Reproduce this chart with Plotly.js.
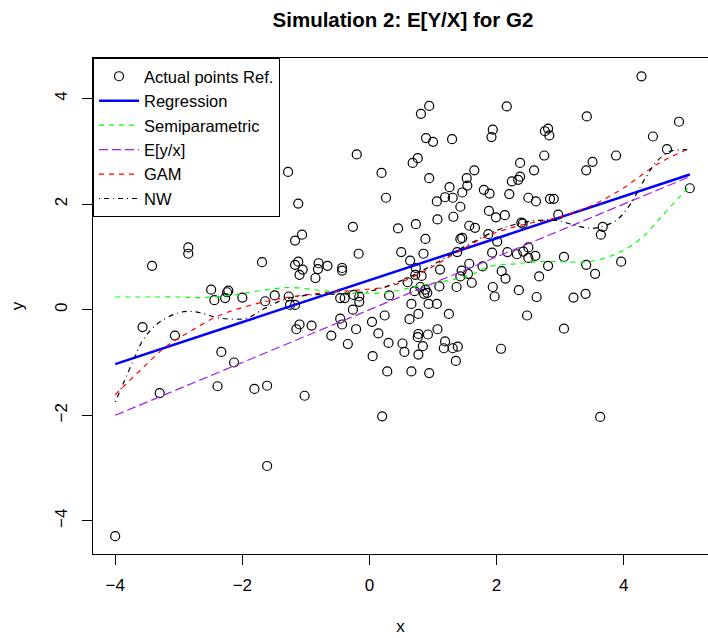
<!DOCTYPE html>
<html><head><meta charset="utf-8">
<script src="https://cdn.plot.ly/plotly-3.0.1.min.js"></script>
<style>html,body{margin:0;padding:0;background:#fff}</style>
</head><body><div id="chart" style="width:708px;height:638px"></div>
<script>
const pointsX = [-1.28,-2.85,-2.85,-3.42,-1.69,-2.49,-2.44,-2.27,-2.24,-2.22,-2.00,-1.64,-1.49,-1.27,-3.57,-3.06,-2.33,-2.13,-3.30,-2.39,-1.81,-1.61,-4.00,-1.61,
0.94,0.81,0.89,1.00,1.30,-0.20,0.19,0.68,0.76,0.94,1.65,1.53,1.54,1.26,1.46,1.19,1.31,1.06,1.80,1.89,1.88,1.92,1.94,1.43,-1.12,0.26,1.07,1.32,0.73,1.57,1.66,1.87,-0.26,0.45,0.88,1.43,1.46,-1.06,-1.17,-0.17,0.50,0.85,1.38,
4.28,2.16,3.42,4.87,4.46,2.76,2.81,2.83,4.68,2.75,3.88,3.51,3.41,2.37,2.59,2.37,2.34,2.24,2.20,2.50,2.62,2.84,2.90,1.99,2.13,2.97,2.39,2.41,3.67,3.64,2.01,5.04,2.50,
1.93,2.17,2.32,2.42,2.50,2.61,3.06,2.81,3.41,3.96,2.08,2.14,2.67,3.55,1.94,1.97,2.35,2.63,3.21,3.40,2.48,3.06,2.07,3.63,
-1.12,-1.17,-1.05,-1.10,-0.80,-0.81,-0.66,-0.85,-0.43,-0.43,0.64,0.73,0.82,0.72,1.11,0.60,1.45,1.43,1.57,1.55,1.61,1.78,1.37,1.10,0.80,0.71,0.88,0.86,0.91,0.31,-1.25,-1.17,-0.46,-0.39,-0.25,-0.16,-0.16,-0.26,0.66,0.93,1.06,0.77,1.25,-0.46,-0.43,0.24,0.63,0.04,-1.10,-1.15,-0.91,-0.21,-0.60,0.14,0.77,0.76,0.92,1.07,-0.34,0.30,0.52,0.55,0.84,0.77,1.19,1.17,1.31,1.39,1.36,0.05,0.28,0.66,0.94,-1.02,0.20];
const pointsY = [2.61,1.18,1.06,0.83,0.90,0.38,0.18,0.22,0.33,0.36,0.23,0.16,0.27,0.25,-0.33,-0.49,-0.80,-1.00,-1.58,-1.45,-1.50,-1.44,-4.29,-2.96,
3.86,3.71,3.25,3.18,3.23,2.94,2.59,2.78,2.87,2.49,2.64,2.49,2.35,2.32,2.22,2.13,2.12,2.05,2.27,2.20,1.87,3.27,3.41,1.95,2.01,2.12,1.71,1.76,1.62,1.59,1.55,1.43,1.57,1.54,1.34,1.34,1.36,1.42,1.31,1.06,1.09,1.06,1.09,
4.42,3.85,3.66,3.56,3.28,3.38,3.43,3.30,3.04,2.92,2.92,2.80,2.64,2.78,2.64,2.52,2.46,2.43,2.19,2.12,2.05,2.10,2.10,1.75,1.79,1.80,1.65,1.63,1.57,1.42,1.29,2.30,1.18,
1.08,1.09,1.05,1.10,0.98,1.02,1.00,0.83,0.85,0.91,0.73,0.59,0.63,0.68,0.43,0.25,0.37,0.24,0.23,0.30,-0.11,-0.36,-0.74,-2.03,
0.91,0.85,0.76,0.66,0.88,0.77,0.83,0.60,0.79,0.74,0.93,0.79,0.64,0.66,0.76,0.52,0.74,0.63,0.87,0.68,0.51,0.82,0.43,0.44,0.43,0.35,0.38,0.30,0.32,0.27,0.09,0.09,0.22,0.22,0.28,0.25,0.15,0.00,0.11,0.11,0.11,-0.08,-0.08,-0.17,-0.28,-0.11,-0.18,-0.23,-0.28,-0.37,-0.30,-0.37,-0.49,-0.45,-0.46,-0.52,-0.47,-0.37,-0.65,-0.63,-0.64,-0.80,-0.69,-0.85,-0.60,-0.73,-0.73,-0.70,-0.97,-0.88,-1.17,-1.17,-1.20,-1.63,-2.02];

const regressionX = [-4.00, 5.04];
const regressionY = [-1.03, 2.56];

const semiX = [-4.00,-3.50,-3.00,-2.66,-2.20,-1.72,-1.25,-0.72,-0.20,0.22,0.85,1.53,1.90,2.30,2.68,3.00,3.31,3.62,3.99,4.31,4.62,4.89,5.04];
const semiY = [0.24,0.24,0.24,0.23,0.27,0.36,0.42,0.36,0.32,0.32,0.47,0.63,0.82,0.87,0.91,0.91,0.90,0.95,1.12,1.39,1.80,2.15,2.34];

const eyxX = [-4.00, 5.04];
const eyxY = [-2.00, 2.52];

const gamX = [-4.00,-3.60,-3.19,-2.82,-2.40,-2.03,-1.61,-1.25,-0.72,-0.20,0.33,0.85,1.37,1.90,2.42,2.95,3.47,3.99,4.52,5.04];
const gamY = [-1.61,-1.14,-0.69,-0.41,-0.13,0.03,0.16,0.24,0.32,0.37,0.45,0.72,1.08,1.42,1.61,1.74,1.96,2.30,2.75,3.06];

const nwX = [-4.00,-3.87,-3.71,-3.56,-3.35,-3.08,-2.87,-2.66,-2.40,-2.14,-1.93,-1.67,-1.35,-1.00,-0.50,0.00,0.50,1.00,1.50,2.00,2.30,2.63,2.95,3.20,3.42,3.58,3.89,4.10,4.31,4.52,4.73,4.94,5.04];
const nwY = [-1.75,-1.39,-0.95,-0.57,-0.28,-0.09,-0.03,-0.06,-0.15,-0.18,-0.16,0.01,0.19,0.27,0.30,0.35,0.55,0.85,1.20,1.50,1.62,1.69,1.69,1.61,1.55,1.55,1.70,1.99,2.43,2.81,3.00,3.03,3.03];

const xTicks = [-4, -2, 0, 2, 4];
const yTicks = [-4, -2, 0, 2, 4];

const FONT = 'Liberation Sans, Arial, Helvetica, sans-serif';

const traces = [
  {x: pointsX, y: pointsY, type: 'scatter', mode: 'markers', name: 'Actual points Ref.',
   marker: {symbol: 'circle-open', size: 9, color: 'black', line: {width: 1.2, color: 'black'}}},
  {x: regressionX, y: regressionY, type: 'scatter', mode: 'lines', name: 'Regression',
   line: {color: '#0000FF', width: 2.5}},
  {x: semiX, y: semiY, type: 'scatter', mode: 'lines', name: 'Semiparametric', line: {shape: 'spline', color: '#00FF00', width: 1.2, dash: '5px,5px'}},
  {x: eyxX, y: eyxY, type: 'scatter', mode: 'lines', name: 'E[y/x]', line: {color: '#A020F0', width: 1.2, dash: '9px,4px'}},
  {x: gamX, y: gamY, type: 'scatter', mode: 'lines', name: 'GAM', line: {shape: 'spline', color: '#FF0000', width: 1.2, dash: '5px,5px'}},
  {x: nwX, y: nwY, type: 'scatter', mode: 'lines', name: 'NW', line: {shape: 'spline', color: 'black', width: 1.2, dash: '1px,4px,5px,4px'}}
];

const layout = {
  width: 708, height: 638,
  margin: {l: 93, r: 0, t: 58, b: 84, pad: 0},
  paper_bgcolor: 'white', plot_bgcolor: 'white',
  font: {family: FONT, color: 'black', size: 17},
  title: {text: '<b>Simulation 2: E[Y/X] for G2</b>', font: {family: FONT, size: 20.5, color: 'black'},
          xref: 'paper', x: 0.504, xanchor: 'center', yref: 'container', y: 1 - 20/638, yanchor: 'middle'},
  showlegend: true,
  legend: {x: 0, y: 1, xanchor: 'left', yanchor: 'top', bordercolor: 'black', borderwidth: 1,
           bgcolor: 'white', font: {family: FONT, size: 16.5, color: 'black'}, itemwidth: 40},
  xaxis: {range: [-4.349, 5.326], tickvals: xTicks, ticktext: xTicks.map(v => v < 0 ? '\u2212' + Math.abs(v) : String(v)),
          showgrid: false, zeroline: false, showline: true, mirror: true, linecolor: 'black', linewidth: 1,
          ticks: 'outside', ticklen: 10, tickwidth: 1, tickcolor: 'black', ticklabelstandoff: 6,
          tickfont: {family: FONT, size: 17, color: 'black'},
          title: {text: 'x', font: {family: FONT, size: 17, color: 'black'}, standoff: 25}, automargin: false},
  yaxis: {range: [-4.627, 4.767], tickvals: yTicks, ticktext: yTicks.map(v => v < 0 ? '\u2212' + Math.abs(v) : String(v)),
          showgrid: false, zeroline: false, showline: true, mirror: false, linecolor: 'black', linewidth: 1,
          ticks: 'outside', ticklen: 10, tickwidth: 1, tickcolor: 'black', tickangle: -90, ticklabelstandoff: 8,
          tickfont: {family: FONT, size: 17, color: 'black'},
          title: {text: 'y', font: {family: FONT, size: 17, color: 'black'}, standoff: 24}, automargin: false}
};

Plotly.newPlot('chart', traces, layout, {displayModeBar: false, staticPlot: true});
</script>
</body></html>
